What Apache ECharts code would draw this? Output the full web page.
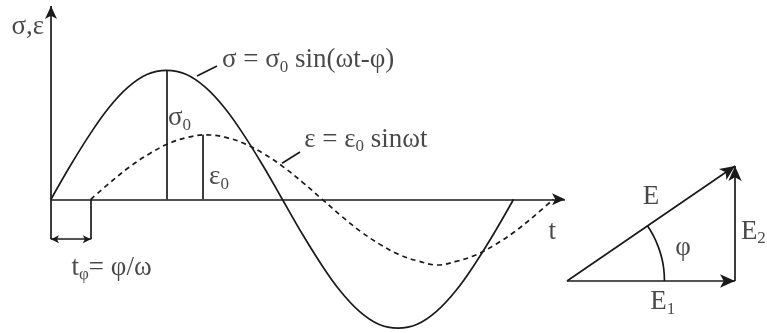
<!DOCTYPE html>
<html>
<head>
<meta charset="utf-8">
<script src="https://cdn.jsdelivr.net/npm/echarts@6/dist/echarts.min.js"></script>
<style>
html, body { margin: 0; padding: 0; background: #fff; }
#main { width: 767px; height: 333px; }
</style>
</head>
<body>
<div id="main"></div>
<script>
// ωt in degrees, σ in units of σ0
const sigmaT = [0, 15, 30, 45, 60, 75, 90, 105, 120, 135, 150, 165, 180, 195, 210, 225, 240, 255, 270, 285, 300, 315, 330, 345, 360]
const sigmaVals = [0, 0.26, 0.5, 0.71, 0.87, 0.97, 1, 0.97, 0.87, 0.71, 0.5, 0.26, 0, -0.26, -0.5, -0.71, -0.87, -0.97, -1, -0.97, -0.87, -0.71, -0.5, -0.26, 0]
// ε curve, shifted by φ ≈ 31°
const epsT = [31, 46, 61, 76, 91, 106, 121, 136, 151, 166, 181, 196, 211, 226, 241, 256, 271, 286, 301, 316, 331, 346, 361, 376, 391]
const epsVals = [0, 0.13, 0.25, 0.35, 0.43, 0.48, 0.5, 0.48, 0.43, 0.35, 0.25, 0.13, 0, -0.13, -0.25, -0.35, -0.43, -0.48, -0.51, -0.48, -0.43, -0.35, -0.25, -0.13, 0]
const phiDeg = 31
const sigma0At = 90
const eps0At = 118
const eps0 = 0.5
const bracketY = -0.31
// phasor triangle (E1 = 1)
const E1 = 1
const E2 = 0.68
const arcX = [0.58, 0.576, 0.563, 0.541, 0.512, 0.479]
const arcY = [0, 0.071, 0.14, 0.208, 0.272, 0.327]
// texts
const mainLabels = [
	{ pos: [-18, 1.337], text: "{m|σ,ε}", center: true },
	{ pos: [133, 1.08], text: "{m|σ = σ}{s|0}{m| sin(ωt-φ)}" },
	{ pos: [197, 0.462], text: "{m|ε = ε}{s|0}{m| sinωt}" },
	{ pos: [91, 0.63], text: "{m|σ}{s|0}" },
	{ pos: [123, 0.17], text: "{m|ε}{s|0}" },
	{ pos: [16, -0.53], text: "{m|t}{s|φ}{m|= φ/ω}" },
	{ pos: [390, -0.25], text: "{m|t}", center: true },
]
const triLabels = [
	{ pos: [0.5, 0.5], text: "{m|E}", center: true },
	{ pos: [0.69, 0.195], text: "{m|φ}", center: true },
	{ pos: [1.035, 0.29], text: "{m|E}{s|2}" },
	{ pos: [0.57, -0.125], text: "{m|E}{s|1}", center: true },
]

const ink = "#1a1a1a"
const font = "Liberation Serif"
const rich = {
	m: { fontSize: 27, fontFamily: font, color: ink, lineHeight: 31 },
	s: { fontSize: 17, fontFamily: font, color: ink, lineHeight: 17, verticalAlign: "bottom" },
}
const mk = (a, b) => [{ coord: a }, { coord: b }]
const labelSeries = (list, gi) => ({
	type: "scatter",
	xAxisIndex: gi,
	yAxisIndex: gi,
	symbolSize: 0,
	clip: false,
	silent: true,
	data: list.map((l) => ({
		value: l.pos,
		label: {
			show: true,
			position: l.center ? "inside" : "right",
			distance: 0,
			formatter: l.text,
			rich: rich,
		},
	})),
})

let chart = echarts.init(document.getElementById("main"), null, { renderer: "canvas" })
let option = {
	backgroundColor: "#fff",
	animation: false,
	grid: [
		{ left: 51, top: 6, width: 514, height: 326, outerBoundsMode: "none" },
		{ left: 567, top: 166, width: 168, height: 115, outerBoundsMode: "none" },
	],
	xAxis: [
		{ type: "value", gridIndex: 0, min: 0, max: 400, show: false },
		{ type: "value", gridIndex: 1, min: 0, max: E1, show: false },
	],
	yAxis: [
		{ type: "value", gridIndex: 0, min: -1.03, max: 1.5, show: false },
		{ type: "value", gridIndex: 1, min: 0, max: E2, show: false },
	],
	series: [
		{
			type: "line",
			xAxisIndex: 0,
			yAxisIndex: 0,
			data: sigmaT.map((t, i) => [t, sigmaVals[i]]),
			smooth: 0.4,
			showSymbol: false,
			clip: false,
			lineStyle: { color: ink, width: 1.7 },
			markLine: {
				silent: true,
				symbol: ["none", "arrow"],
				symbolSize: [9, 13],
				label: { show: false },
				lineStyle: { color: ink, width: 1.7, type: "solid" },
				data: [
					mk([0, 0], [400, 0]),
					mk([0, bracketY], [0, 1.5]),
				],
			},
		},
		{
			type: "line",
			xAxisIndex: 0,
			yAxisIndex: 0,
			data: epsT.map((t, i) => [t, epsVals[i]]),
			smooth: 0.4,
			showSymbol: false,
			clip: false,
			lineStyle: { color: ink, width: 1.7, type: [5, 4] },
			markLine: {
				silent: true,
				symbol: ["none", "none"],
				label: { show: false },
				lineStyle: { color: ink, width: 1.7, type: "solid" },
				data: [
					mk([sigma0At, 0], [sigma0At, 1]),
					mk([eps0At, 0], [eps0At, eps0]),
					mk([phiDeg, 0], [phiDeg, bracketY]),
					mk([113.6, 0.957], [129.2, 1.035]),
					mk([179.8, 0.28], [193.8, 0.367]),
				],
			},
		},
		{
			type: "line",
			xAxisIndex: 0,
			yAxisIndex: 0,
			data: [],
			markLine: {
				silent: true,
				symbol: ["arrow", "arrow"],
				symbolSize: [6, 8],
				label: { show: false },
				lineStyle: { color: ink, width: 1.5, type: "solid" },
				data: [mk([0, bracketY], [phiDeg, bracketY])],
			},
		},
		{
			type: "line",
			xAxisIndex: 1,
			yAxisIndex: 1,
			data: arcX.map((x, i) => [x, arcY[i]]),
			smooth: true,
			showSymbol: false,
			clip: false,
			lineStyle: { color: ink, width: 1.7 },
			markLine: {
				silent: true,
				symbol: ["none", "arrow"],
				symbolSize: [10, 15],
				label: { show: false },
				lineStyle: { color: ink, width: 1.7, type: "solid" },
				data: [
					mk([0, 0], [E1, 0]),
					mk([E1, 0], [E1, E2]),
					mk([0, 0], [E1, E2]),
				],
			},
		},
		labelSeries(mainLabels, 0),
		labelSeries(triLabels, 1),
	],
}
chart.setOption(option)
</script>
</body>
</html>
